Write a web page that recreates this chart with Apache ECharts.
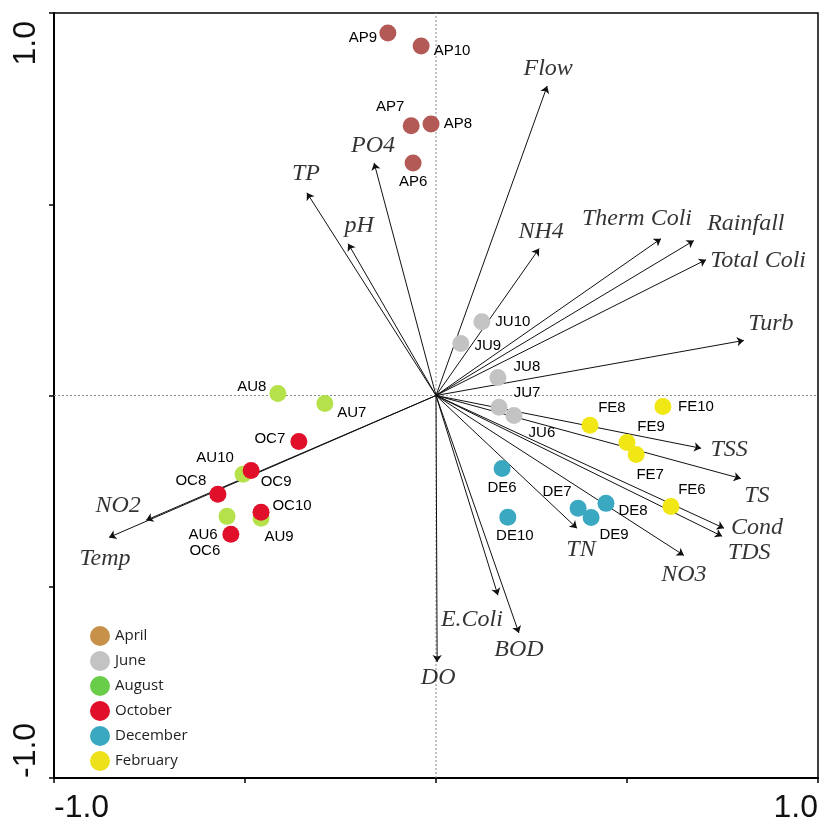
<!DOCTYPE html>
<html>
<head>
<meta charset="utf-8">
<script src="https://cdn.jsdelivr.net/npm/echarts@6/dist/echarts.min.js"></script>
<style>html,body{margin:0;padding:0;background:#fff}#c{width:819px;height:818px}</style>
</head>
<body>
<div id="c"></div>
<script>
// ---- data (PC1, PC2 loadings / scores) ----
const months = ['April', 'June', 'August', 'October', 'December', 'February'];

const aprilNames = ['AP6', 'AP7', 'AP8', 'AP9', 'AP10'];
const aprilPC1 = [-0.060, -0.065, -0.013, -0.126, -0.039];
const aprilPC2 = [0.608, 0.705, 0.710, 0.948, 0.914];

const juneNames = ['JU6', 'JU7', 'JU8', 'JU9', 'JU10'];
const junePC1 = [0.204, 0.165, 0.162, 0.065, 0.120];
const junePC2 = [-0.052, -0.031, 0.047, 0.136, 0.193];

const augustNames = ['AU6', 'AU7', 'AU8', 'AU9', 'AU10'];
const augustPC1 = [-0.547, -0.291, -0.414, -0.458, -0.505];
const augustPC2 = [-0.316, -0.021, 0.005, -0.321, -0.206];

const octoberNames = ['OC6', 'OC7', 'OC8', 'OC9', 'OC10'];
const octoberPC1 = [-0.537, -0.359, -0.571, -0.484, -0.458];
const octoberPC2 = [-0.363, -0.120, -0.258, -0.196, -0.305];

const decemberNames = ['DE6', 'DE7', 'DE8', 'DE9', 'DE10'];
const decemberPC1 = [0.173, 0.372, 0.445, 0.406, 0.188];
const decemberPC2 = [-0.191, -0.295, -0.282, -0.319, -0.318];

const februaryNames = ['FE6', 'FE7', 'FE8', 'FE9', 'FE10'];
const februaryPC1 = [0.615, 0.524, 0.403, 0.500, 0.594];
const februaryPC2 = [-0.290, -0.154, -0.078, -0.123, -0.029];

const varNames = ['Temp', 'NO2', 'Flow', 'PO4', 'TP', 'pH', 'NH4', 'Therm Coli', 'Rainfall', 'Total Coli', 'Turb',
  'TSS', 'TS', 'Cond', 'TDS', 'NO3', 'TN', 'E.Coli', 'BOD', 'DO'];
const varPC1 = [-0.856, -0.759, 0.291, -0.162, -0.338, -0.230, 0.270, 0.589, 0.675, 0.707, 0.806,
  0.694, 0.798, 0.754, 0.749, 0.649, 0.369, 0.162, 0.217, 0.003];
const varPC2 = [-0.371, -0.326, 0.809, 0.608, 0.530, 0.397, 0.384, 0.410, 0.405, 0.355, 0.144,
  -0.138, -0.217, -0.347, -0.368, -0.418, -0.347, -0.522, -0.621, -0.697];

const axisTickValues = [-1, 1];
const axisTickLabels = ['-1.0', '1.0'];

// ---- styles ----
const pointColors = { April: '#b35a56', June: '#c3c3c3', August: '#b5e24a', October: '#e0102b', December: '#3aa8c1', February: '#f0e714' };
const legendColors = { April: '#c8914a', June: '#c3c3c3', August: '#6acd4a', October: '#e0102b', December: '#3aa8c1', February: '#ede21a' };

// label pixel offsets (style only)
const pointLabelOffset = {
  AP6: [0, 19], AP7: [-21, -19], AP8: [27, 0], AP9: [-25, 5], AP10: [31, 5],
  JU6: [28, 17], JU7: [28, -14], JU8: [29, -11], JU9: [27, 2], JU10: [31, 0],
  AU6: [-24, 18], AU7: [27, 9], AU8: [-26, -7], AU9: [18, 19], AU10: [-28, -16],
  OC6: [-26, 17], OC7: [-29, -3], OC8: [-27, -13], OC9: [25, 11], OC10: [31, -6],
  DE6: [0, 19], DE7: [-21, -16], DE8: [27, 7], DE9: [23, 17], DE10: [7, 19],
  FE6: [21, -17], FE7: [14, 20], FE8: [22, -17], FE9: [24, -16], FE10: [33, 0]
};
const varLabelOffset = {
  'Temp': [-4, 21], 'NO2': [-28, -15], 'Flow': [1, -17], 'PO4': [-1, -17], 'TP': [-1, -19], 'pH': [11, -18],
  'NH4': [2, -17], 'Therm Coli': [-24, -20], 'Rainfall': [52, -17], 'Total Coli': [52, 1], 'Turb': [27, -17],
  'TSS': [28, 1], 'TS': [16, 17], 'Cond': [33, -1], 'TDS': [27, 16], 'NO3': [0, 19], 'TN': [4, 21],
  'E.Coli': [-26, 25], 'BOD': [0, 17], 'DO': [1, 16]
};

const groups = [
  [aprilNames, aprilPC1, aprilPC2],
  [juneNames, junePC1, junePC2],
  [augustNames, augustPC1, augustPC2],
  [octoberNames, octoberPC1, octoberPC2],
  [decemberNames, decemberPC1, decemberPC2],
  [februaryNames, februaryPC1, februaryPC2]
];

const series = [];

// reference dotted lines through origin
series.push({
  type: 'line', silent: true, symbol: 'none', z: 1,
  data: [[0, -1], [0, 1]],
  lineStyle: { color: '#8a8a8a', width: 1, type: [2, 2] }
});
series.push({
  type: 'line', silent: true, symbol: 'none', z: 1,
  data: [[-1, 0], [1, 0]],
  lineStyle: { color: '#8a8a8a', width: 1, type: [2, 2] }
});

// vectors
series.push({
  type: 'lines', coordinateSystem: 'cartesian2d', silent: true, z: 2,
  symbol: ['none', 'arrow'], symbolSize: 7,
  lineStyle: { color: '#111', width: 1, opacity: 1 },
  data: varNames.map((n, i) => ({ coords: [[0, 0], [varPC1[i], varPC2[i]]] }))
});
// vector labels
series.push({
  type: 'scatter', silent: true, symbolSize: 0, z: 5,
  data: varNames.map((n, i) => ({
    name: n, value: [varPC1[i], varPC2[i]],
    label: { offset: varLabelOffset[n] }
  })),
  label: {
    show: true, position: 'inside', formatter: p => p.name,
    fontFamily: '"Liberation Serif", "Times New Roman", serif', fontStyle: 'italic',
    fontSize: 24, color: '#000'
  }
});

// sample points
groups.forEach((g, gi) => {
  const m = months[gi];
  series.push({
    name: m, type: 'scatter', symbolSize: 17, z: 4,
    itemStyle: { color: pointColors[m], opacity: 1 },
    data: g[0].map((n, i) => ({
      name: n, value: [g[1][i], g[2][i]],
      label: { offset: pointLabelOffset[n] }
    })),
    label: {
      show: true, position: 'inside', formatter: p => p.name,
      fontFamily: '"Liberation Sans", Arial, sans-serif', fontSize: 15, color: '#000'
    },
    emphasis: { disabled: true }
  });
});

const fmtTick = v => {
  const k = axisTickValues.indexOf(v);
  return k >= 0 ? axisTickLabels[k] : '';
};

const option = {
  animation: false,
  backgroundColor: '#fff',
  grid: {
    left: 54, right: 1, top: 13, bottom: 40, show: true, borderColor: '#000', borderWidth: 1.5,
    containLabel: false, outerBoundsMode: 'none'
  },
  xAxis: {
    type: 'value', min: -1, max: 1, interval: 0.5,
    axisLine: { show: true, onZero: false, lineStyle: { color: '#000', width: 2 } },
    axisTick: { show: true, length: 5, lineStyle: { color: '#000', width: 1.5 } },
    splitLine: { show: false },
    axisLabel: {
      formatter: fmtTick, fontSize: 32, color: '#111', margin: 14,
      fontFamily: '"Liberation Sans", Arial, sans-serif',
      alignMinLabel: 'left', alignMaxLabel: 'right'
    }
  },
  yAxis: {
    type: 'value', min: -1, max: 1, interval: 0.5,
    axisLine: { show: true, onZero: false, lineStyle: { color: '#000', width: 2 } },
    axisTick: { show: true, length: 5, lineStyle: { color: '#000', width: 1.5 } },
    splitLine: { show: false },
    axisLabel: {
      formatter: fmtTick, fontSize: 32, color: '#111', margin: 12, rotate: 90,
      padding: [0, 8, 0, 0],
      fontFamily: '"Liberation Sans", Arial, sans-serif',
      alignMinLabel: 'left', alignMaxLabel: 'right'
    }
  },
  legend: {
    orient: 'vertical', left: 85, top: 621, itemWidth: 20, itemHeight: 20, itemGap: 5,
    icon: 'circle', selectedMode: false,
    textStyle: { fontFamily: '"Open Sans", sans-serif', fontSize: 15, color: '#222' },
    data: months.map(m => ({ name: m, itemStyle: { color: legendColors[m] } }))
  },
  series: series
};

const chart = echarts.init(document.getElementById('c'), null, { renderer: 'canvas' });
chart.setOption(option);
</script>
</body>
</html>
